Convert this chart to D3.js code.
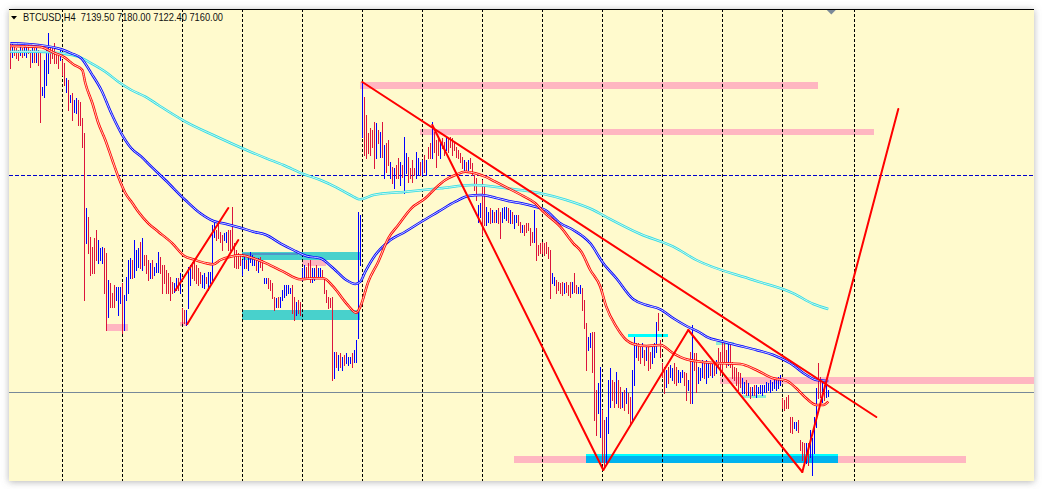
<!DOCTYPE html>
<html><head><meta charset="utf-8">
<script src="https://cdn.jsdelivr.net/npm/d3@7/dist/d3.min.js"></script>
<style>html,body{margin:0;padding:0;background:#fff;}svg{display:block}</style>
</head><body>
<svg id="chart" width="1042" height="489"></svg>
<script>
// ---------------- DATA ----------------
const symbolLabel = "BTCUSD,H4";
const lastOHLC = [7139.50, 7180.00, 7122.40, 7160.00];
const highs = [
10640,10640,10610,10600,10580,10630,10600,10630,10610,10630,
10580,10610,10600,10600,10580,10550,10210,10480,10600,10750,
10610,10600,10650,10560,10550,10580,10480,10450,10300,10280,
10130,10150,10080,10100,10080,10060,9900,9750,9000,8910,
8710,8610,8700,8780,8680,8600,8610,8600,8550,8280,
8250,8150,8230,8210,8210,8210,8250,8130,8310,8480,
8500,8480,8680,8580,8600,8660,8700,8530,8530,8480,
8450,8480,8410,8450,8560,8510,8430,8430,8380,8350,
8310,8260,8250,8300,8300,8350,8000,7980,7980,8410,
8430,8460,8480,8430,8400,8360,8330,8350,8310,8360,
8360,8830,8850,8780,8860,8760,8730,8750,8760,8780,
8780,9010,8650,8580,8550,8530,8480,8530,8480,8510,
8560,8530,8510,8500,8500,8510,8480,8300,8300,8300,
8280,8250,8110,8100,8110,8110,8180,8230,8230,8230,
8200,8230,8110,8060,8080,8060,8400,8430,8410,8450,
8480,8400,8400,8430,8400,8400,8380,8300,8180,8110,
8100,8110,7560,7560,7530,7550,7510,7530,7550,7510,
7510,7550,7580,7680,8960,8930,10260,10110,9930,9750,
9800,9780,9860,9850,9780,9760,9860,9630,9650,9680,
9460,9410,9400,9430,9500,9460,9430,9710,9550,9510,
9400,9480,9400,9560,9500,9460,9480,9530,9480,9610,
9650,9860,9760,9680,9710,9660,9700,9660,9710,9700,
9710,9700,9650,9610,9580,9550,9510,9480,9460,9480,
9500,9450,9330,9300,9030,9050,9280,9230,9010,8960,
9000,8980,8960,8980,9000,8960,9000,9010,9010,9000,
8980,8960,8930,8930,8930,8860,8830,8830,8850,8850,
8800,8760,8980,8800,8630,8650,8660,8650,8660,8610,
8580,8350,8310,8280,8260,8250,8260,8250,8260,8230,
8260,8260,8350,8230,8210,8230,8200,8080,7850,7710,
7750,7760,7760,7180,7250,7410,6980,6880,6910,7280,
7400,7280,7260,7360,7280,7210,7160,7180,7200,7150,
7110,7380,7710,7650,7650,7610,7650,7580,7610,7610,
7560,7610,7650,7860,7950,7680,7450,7410,7380,7410,
7430,7400,7450,7410,7380,7360,7380,7360,7350,7280,
7560,7830,7550,7550,7410,7400,7480,7450,7480,7450,
7460,7460,7450,7480,7600,7560,7650,7660,7580,7650,
7630,7460,7410,7400,7360,7350,7300,7260,7280,7250,
7210,7210,7230,7230,7210,7230,7230,7230,7260,7250,
7280,7260,7300,7300,7310,7330,7100,7080,7110,7130,
6910,6910,6860,6860,6880,6680,6660,6650,6650,6650,
6780,6700,6910,7200,7450,7310,7260,7230,7280,7180
];
const lows = [
10400,10510,10530,10500,10480,10530,10510,10530,10510,10550,
10410,10460,10460,10460,10430,9860,10130,10110,10230,10350,
10450,10500,10450,10450,10400,10480,10330,10230,10160,9980,
10060,9880,9960,9950,9830,9830,9610,8080,8650,8550,
8330,8350,8350,8480,8450,8480,8450,8150,7780,7910,
8010,8010,8010,8080,7930,8050,7750,7780,8080,8150,
8300,8300,8310,8380,8410,8400,8380,8430,8350,8280,
8300,8300,8330,8360,8360,8350,8150,8250,8150,8150,
8080,8150,8160,8180,8180,8150,7850,7850,7830,8000,
8230,8300,8280,8250,8230,8250,8210,8200,8250,8180,
8250,8280,8710,8680,8700,8660,8580,8680,8660,8580,
8580,8580,8410,8400,8400,8430,8330,8400,8400,8380,
8460,8430,8430,8380,8360,8410,8380,8250,8250,8200,
8180,8100,7980,8010,8010,8010,8080,8110,8130,8150,
8150,7950,7880,7930,7950,7930,8280,8300,8310,8310,
8260,8260,8280,8300,8310,8310,8310,8150,8060,8000,
8010,7280,7300,7410,7380,7410,7380,7430,7450,7430,
7450,7410,7460,7460,7700,8430,9710,9530,9500,9550,
9530,9610,9400,9500,9650,9510,9510,9300,9360,9430,
9300,9250,9200,9300,9300,9230,9310,9150,9350,9260,
9300,9260,9330,9300,9330,9330,9330,9360,9330,9500,
9500,9500,9560,9410,9530,9500,9600,9530,9580,9560,
9610,9530,9580,9510,9500,9460,9400,9380,9360,9360,
9400,9330,9180,9080,8860,8910,8730,8830,8830,8860,
8850,8860,8860,8860,8850,8700,8860,8900,8880,8860,
8850,8850,8800,8860,8830,8760,8760,8730,8760,8780,
8630,8660,8660,8480,8530,8550,8550,8530,8550,8500,
8100,8250,8230,8150,8180,8150,8130,8150,8160,8130,
8110,8150,8160,8150,8150,8150,7980,7800,7380,7580,
7610,7360,6880,6730,6950,6710,6460,6410,6450,6750,
7010,7080,7010,7050,7010,7000,7010,6980,7050,6950,
6850,6880,7230,7510,7480,7450,7510,7430,7480,7380,
7400,7450,7510,7560,7780,7510,7310,7150,7210,7250,
7310,7280,7250,7230,7260,7260,7310,7230,7080,7180,
7050,7050,7380,7160,7250,7280,7310,7300,7250,7310,
7330,7310,7330,7350,7410,7330,7350,7450,7410,7430,
7410,7300,7280,7230,7180,7210,7150,7150,7130,7130,
7100,7130,7130,7110,7150,7150,7130,7160,7160,7180,
7160,7180,7200,7180,7200,7230,7000,6980,7000,7000,
6760,6750,6800,6780,6760,6580,6480,6480,6450,6430,
6510,6330,6550,6810,7100,7110,7060,7080,7110,7122.4
];
const barUp = [
0,1,0,0,0,1,0,1,1,0,
0,1,0,1,0,0,1,1,1,1,
0,0,0,0,0,1,0,0,1,0,
1,0,1,1,0,0,0,0,1,0,
0,0,0,0,1,1,1,0,0,1,
0,0,0,1,1,1,0,1,1,1,
1,0,1,1,1,0,1,0,0,0,
1,0,1,1,1,0,0,0,0,0,
0,0,1,1,0,1,0,0,1,1,
1,0,0,0,0,0,1,1,0,1,
1,1,1,0,0,0,0,1,1,0,
0,0,0,0,0,0,1,1,0,1,
1,1,1,0,1,0,0,1,1,0,
0,0,0,1,0,1,1,1,1,1,
1,0,0,1,0,0,1,1,0,0,
0,1,1,0,1,1,0,0,0,0,
0,0,1,0,1,0,1,0,1,1,
1,0,1,1,1,1,1,0,0,0,
0,0,0,1,0,1,0,1,0,0,
1,0,1,0,0,1,0,1,1,0,
0,0,0,1,1,0,1,0,1,0,
0,1,0,0,0,1,0,0,1,0,
0,0,0,0,0,0,0,1,0,1,
0,0,0,0,1,1,0,0,1,1,
0,1,0,1,0,0,1,1,1,0,
1,0,1,1,0,0,1,0,0,0,
0,0,1,0,0,0,0,0,0,0,
0,1,1,0,0,0,0,1,0,0,
0,1,0,0,1,1,0,0,0,1,
1,0,0,0,1,1,0,0,1,1,
1,0,0,1,0,0,1,0,1,0,
0,1,1,1,0,0,1,0,1,0,
0,1,1,1,0,0,0,0,1,0,
1,1,0,0,1,1,1,0,0,1,
0,1,0,0,1,1,1,0,1,1,
0,1,0,1,0,0,0,0,0,1,
0,0,0,0,0,0,1,1,0,1,
0,1,0,1,1,1,1,1,1,1,
1,1,1,1,1,1,0,0,0,0,
0,0,1,1,0,0,0,0,1,0,
1,1,1,1,0,0,1,0,1,1
];
// moving averages: [bar index, price]
const maFast = [[0,10620],[15,10610],[22,10550],[26.5,10513],[32,10430],[36,10380],[37.5,10250],[41,10050],[44,9850],[47.5,9680],[51,9480],[54,9313],[57.5,9150],[61,9050],[64,8963],[69,8847],[74,8763],[81,8647],[87,8520],[91.5,8487],[98,8447],[101.5,8437],[105,8480],[110,8513],[115,8527],[121.5,8497],[128,8447],[136.5,8363],[145,8287],[151.5,8297],[156.5,8297],[161.5,8213],[168,8047],[173,7953],[175,8013],[179,8263],[184,8463],[189,8697],[194,8830],[200.5,8997],[207.5,9097],[212.5,9197],[217.5,9280],[222.5,9330],[227.5,9363],[232.5,9347],[237.5,9313],[242.5,9263],[249,9197],[255.5,9130],[262.5,9047],[266.5,8963],[275,8813],[281.5,8647],[285.5,8563],[290,8380],[295,8213],[298,8013],[303,7813],[308,7680],[311.5,7640],[318,7620],[325,7630],[331.5,7547],[338,7487],[345,7463],[350,7453],[356.5,7447],[365,7440],[373,7380],[381.5,7297],[388,7273],[393,7197],[398,7097],[403,7030],[406.5,7030],[409,7063]];
const maMid = [[0,10647],[14,10630],[25.5,10587],[30.5,10547],[35.5,10497],[40.5,10347],[45.5,10180],[50.5,9947],[55.5,9747],[60.5,9597],[65.5,9513],[70.5,9413],[77.5,9280],[87.5,9080],[95,8947],[101.5,8870],[108,8840],[115,8803],[121.5,8763],[128,8730],[135,8647],[141.5,8580],[148,8520],[155,8497],[161.5,8397],[168,8280],[172.5,8240],[175,8263],[177.5,8363],[182.5,8530],[189,8663],[197.5,8763],[205.5,8863],[214,8963],[222.5,9063],[229,9120],[235.5,9130],[242.5,9103],[249,9070],[255.5,9047],[262.5,9013],[267.5,8980],[275,8847],[281.5,8780],[290,8647],[296.5,8447],[303,8297],[311.5,8087],[318,8030],[325,7987],[331.5,7897],[338,7820],[345,7753],[348,7713],[356.5,7663],[365,7620],[373,7580],[381.5,7530],[390,7447],[398,7330],[403,7280],[409,7270]];
const maSlow = [[0,10563],[14,10563],[25.5,10547],[34,10513],[40.5,10447],[47.5,10363],[54,10263],[60.5,10180],[67.5,10113],[74,10030],[80.5,9947],[87.5,9863],[102.5,9720],[118,9580],[128,9497],[136.5,9430],[146.5,9340],[155,9280],[163,9207],[170,9130],[175,9087],[181.5,9130],[198,9163],[215,9197],[231.5,9230],[248,9197],[265,9147],[278,9080],[291.5,8980],[298,8910],[315,8740],[331.5,8613],[343,8480],[371.5,8280],[391.5,8147],[401.5,8040],[409,7990]];
// zones: [startBar, endBar, priceTop, priceBottom]
const pinkZones = [[175,404,10260,10190],[205,432,9795,9730],[355,520,7310,7240],[252,478,6523,6450],[48,59,7845,7770],[85,88,7863,7820],[146,158,8480,8420]];
const turquoiseZones = [[116,175,8560,8480],[116,175,7980,7880]];
const steelZones = [[116,144,8555,8530]];
const aquaZones = [[309,329,7743,7713],[288,414,6540,6450]];
const aquamarineZones = [[353,362,7660,7630],[366,378,7130,7100]];
const skyZones = [[288,414,6520,6450]];
// trend lines: [bar1, price1, bar2, price2]
const trendLines = [[176,10260,433,6910],[211,9830,296.5,6380],[296.5,6380,339,7780],[339,7780,396,6360],[396,6360,444,9990],[82.5,8175,109,9000],[88.5,7840,114,8680]];
const gridBars = [26,56,86,116,146,176,206,236,266,296,326,356,386,422];
const levelPrice = 9330;

// ---------------- DRAW ----------------
const svg = d3.select("#chart");
const P = {x0:9, x1:1034, y0:9, y1:481};
const x = d3.scaleLinear().domain([0, 409]).range([10.3, 828.3]);
const y = d3.scaleLinear().domain([6270, 10990]).range([481, 9]);

const defs = svg.append("defs");
const f = defs.append("filter").attr("id","sh").attr("x","-5%").attr("y","-5%").attr("width","110%").attr("height","112%");
f.append("feDropShadow").attr("dx",0).attr("dy",1).attr("stdDeviation",3.5).attr("flood-color","#777").attr("flood-opacity",0.55);
defs.append("clipPath").attr("id","clip").append("rect").attr("x",P.x0).attr("y",P.y0).attr("width",P.x1-P.x0).attr("height",P.y1-P.y0);

svg.append("rect").attr("x",P.x0).attr("y",P.y0).attr("width",P.x1-P.x0).attr("height",P.y1-P.y0)
  .attr("fill","#FFFACD").attr("filter","url(#sh)");

const g = svg.append("g").attr("clip-path","url(#clip)");

function zones(data, color){
  g.append("g").selectAll("rect").data(data).join("rect")
    .attr("x", d=>x(d[0])).attr("width", d=>x(d[1])-x(d[0]))
    .attr("y", d=>y(d[2])).attr("height", d=>y(d[3])-y(d[2]))
    .attr("fill", color).attr("shape-rendering","crispEdges");
}
zones(pinkZones, "#FFB6C1");
zones(turquoiseZones, "#48D1CC");
zones(steelZones, "#4F97C8");
zones(aquaZones, "#00FFFF");
zones(aquamarineZones, "#8FEFD0");
zones(skyZones, "#00B2EE");

// grid
g.append("g").selectAll("line").data(gridBars).join("line")
  .attr("x1", d=>Math.round(x(d))+0.5).attr("x2", d=>Math.round(x(d))+0.5)
  .attr("y1", P.y0).attr("y2", P.y1)
  .attr("stroke","#000").attr("stroke-width",1).attr("stroke-dasharray","3,2").attr("shape-rendering","crispEdges");

// horizontal level & bid line
g.append("line").attr("x1",P.x0).attr("x2",P.x1)
  .attr("y1",Math.round(y(levelPrice))+0.5).attr("y2",Math.round(y(levelPrice))+0.5)
  .attr("stroke","#0000CD").attr("stroke-dasharray","4,2").attr("shape-rendering","crispEdges");
g.append("line").attr("x1",P.x0).attr("x2",P.x1)
  .attr("y1",Math.round(y(lastOHLC[3]))+0.5).attr("y2",Math.round(y(lastOHLC[3]))+0.5)
  .attr("stroke","#778899").attr("shape-rendering","crispEdges");

// bars
g.append("g").selectAll("line").data(highs).join("line")
  .attr("x1",(d,i)=>Math.round(x(i))+0.5).attr("x2",(d,i)=>Math.round(x(i))+0.5)
  .attr("y1",d=>Math.round(y(d))).attr("y2",(d,i)=>Math.round(y(lows[i]))+1)
  .attr("stroke",(d,i)=>barUp[i] ? "#0000FF" : "#DC143C").attr("stroke-width",1)
  .attr("shape-rendering","crispEdges");

// moving averages
const line = d3.line().x(d=>x(d[0])).y(d=>y(d[1])).curve(d3.curveMonotoneX);
function ma(data, outer, inner){
  g.append("path").attr("d", line(data)).attr("fill","none").attr("stroke",outer).attr("stroke-width",2.5);
  g.append("path").attr("d", line(data)).attr("fill","none").attr("stroke",inner).attr("stroke-width",1);
}
ma(maSlow, "#30DCE4", "#C6F6F0");
ma(maMid, "#0000FF", "#C4CCFF");
ma(maFast, "#FF0000", "#FFC8B8");

// trend lines
g.append("g").selectAll("line").data(trendLines).join("line")
  .attr("x1",d=>x(d[0])).attr("y1",d=>y(d[1])).attr("x2",d=>x(d[2])).attr("y2",d=>y(d[3]))
  .attr("stroke","#FF0000").attr("stroke-width",2).attr("stroke-linecap","round");

// top border
svg.append("line").attr("x1",P.x0).attr("x2",P.x1).attr("y1",P.y0+0.5).attr("y2",P.y0+0.5)
  .attr("stroke","#000").attr("shape-rendering","crispEdges");

// shift marker
const mx = x(409) + 3;
svg.append("path").attr("d",`M${mx-4.5},10 L${mx+4.5},10 L${mx},14.5 Z`).attr("fill","#7B8A99");

// title
svg.append("path").attr("d","M11,16 L17,16 L14,19.5 Z").attr("fill","#000");
const fmt = d3.format(".2f");
svg.append("text").attr("x",23).attr("y",20.5)
  .style("white-space","pre")
  .attr("font-family","'Liberation Sans', Arial, sans-serif").attr("font-size",11)
  .attr("textLength",200).attr("lengthAdjust","spacingAndGlyphs")
  .attr("fill","#111")
  .text(symbolLabel + "  " + lastOHLC.map(fmt).join(" "));
</script>
</body></html>
